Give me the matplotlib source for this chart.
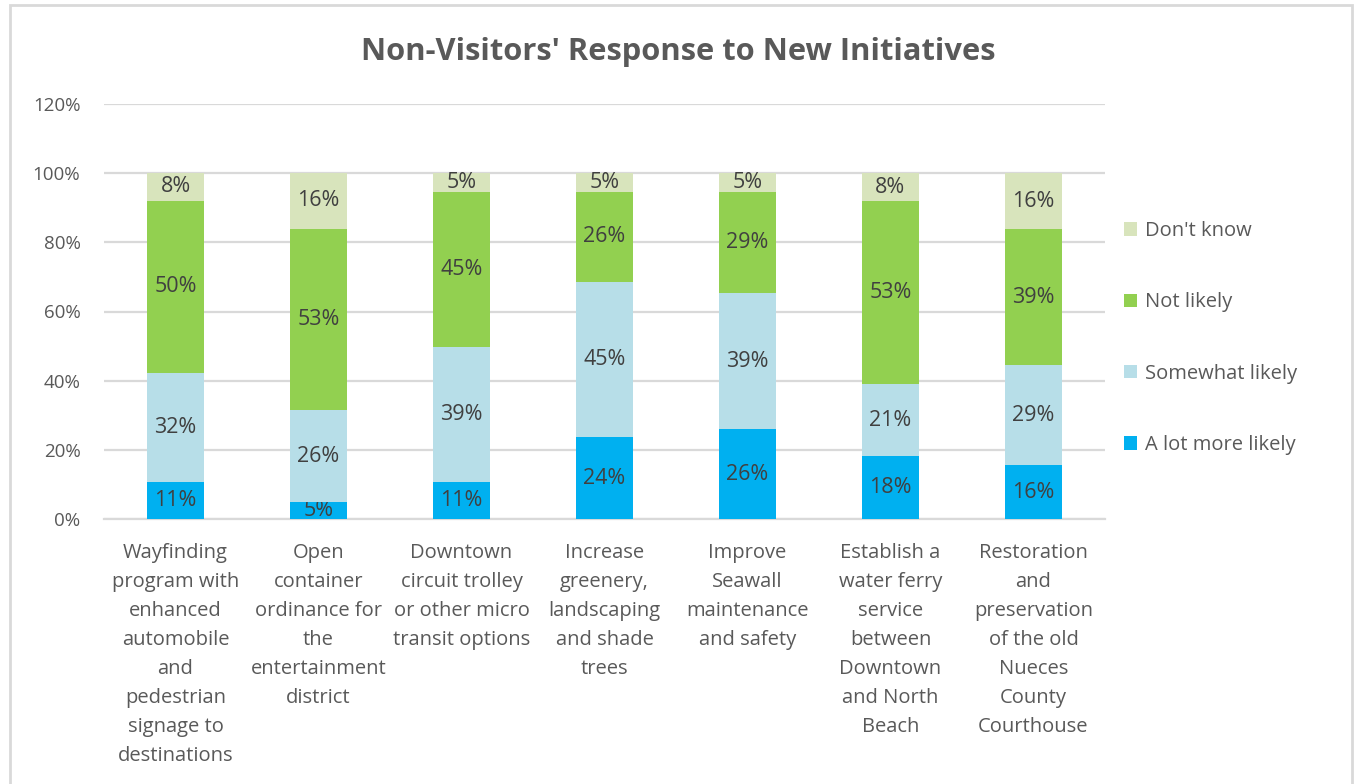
import matplotlib
matplotlib.use('agg')

import matplotlib.pyplot as plt
from matplotlib.patches import Rectangle, Patch
import numpy as np

plt.rcParams['font.family'] = ['Open Sans', 'DejaVu Sans']

categories = [
    "Wayfinding\nprogram with\nenhanced\nautomobile\nand\npedestrian\nsignage to\ndestinations",
    "Open\ncontainer\nordinance for\nthe\nentertainment\ndistrict",
    "Downtown\ncircuit trolley\nor other micro\ntransit options",
    "Increase\ngreenery,\nlandscaping\nand shade\ntrees",
    "Improve\nSeawall\nmaintenance\nand safety",
    "Establish a\nwater ferry\nservice\nbetween\nDowntown\nand North\nBeach",
    "Restoration\nand\npreservation\nof the old\nNueces\nCounty\nCourthouse",
]

# shares in percent, stacked bottom to top
a_lot_more = [10.6, 5.0, 10.6, 23.6, 26.0, 18.2, 15.6]
somewhat = [31.6, 26.4, 39.2, 44.9, 39.3, 20.8, 28.9]
not_likely = [49.8, 52.6, 44.8, 26.1, 29.3, 52.9, 39.3]
dont_know = [8.0, 16.0, 5.4, 5.4, 5.4, 8.1, 16.2]

series = [
    ("A lot more likely", a_lot_more, "#00B0F0"),
    ("Somewhat likely", somewhat, "#B7DEE8"),
    ("Not likely", not_likely, "#92D050"),
    ("Don't know", dont_know, "#D8E4BC"),
]

text_grey = "#595959"
label_grey = "#404040"
grid_grey = "#D9D9D9"

fig = plt.figure(figsize=(13.56, 7.84), dpi=100)
W, H = 1356, 784

# outer chart frame
fig.patches.append(Rectangle((10 / W, -0.01), 1342 / W, 1 - 5 / H + 0.01,
                             transform=fig.transFigure, fill=False,
                             edgecolor="#D9D9D9", linewidth=2))

ax = fig.add_axes([104 / W, 1 - 519 / H, 1001 / W, 415 / H])

x = np.arange(len(categories))
bottom = np.zeros(len(categories))
handles = []
for name, vals, color in series:
    vals = np.array(vals)
    bars = ax.bar(x, vals, 0.40, bottom=bottom, color=color, zorder=3)
    ax.bar_label(bars, labels=[f"{round(v)}%" for v in vals],
                 label_type='center', fontsize=15.5, color=label_grey)
    bottom += vals
    handles.append(Patch(facecolor=color, label=name))

ax.set_xlim(-0.5, len(categories) - 0.5)
ax.set_ylim(0, 120)
ax.set_yticks(range(0, 121, 20))
ax.set_yticklabels([f"{v}%" for v in range(0, 121, 20)])
ax.yaxis.grid(True, color=grid_grey, linewidth=1.6, zorder=0)
ax.set_axisbelow(True)
ax.tick_params(axis='y', length=0, pad=17, labelsize=13.5, labelcolor=text_grey)
ax.tick_params(axis='x', length=0, pad=17.5, labelsize=14.5, labelcolor=text_grey)
ax.set_xticks(x)
ax.set_xticklabels(categories, linespacing=1.6, va='top')
for side in ['top', 'right', 'left']:
    ax.spines[side].set_visible(False)
ax.spines['bottom'].set_color(grid_grey)
ax.spines['bottom'].set_linewidth(1.6)

fig.text(678 / W, 1 - 52 / H, "Non-Visitors' Response to New Initiatives",
         ha='center', va='center', fontsize=22.2, fontweight='bold', color=text_grey)

ax.legend(handles=handles[::-1], loc='upper left',
          bbox_to_anchor=(1116 / W, 1 - 213 / H), bbox_transform=fig.transFigure,
          frameon=False, fontsize=14.5, labelcolor=text_grey,
          handlelength=0.65, handleheight=0.65, handletextpad=0.4,
          labelspacing=2.55, borderaxespad=0)

fig.savefig("out.png", dpi=100)
